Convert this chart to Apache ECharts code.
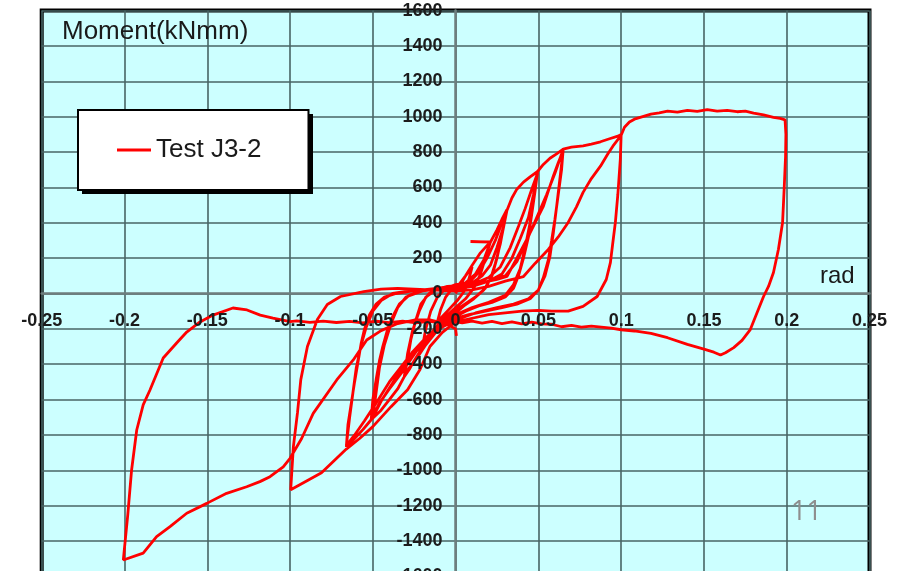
<!DOCTYPE html>
<html>
<head>
<meta charset="utf-8">
<title>Test J3-2</title>
<script src="https://cdn.jsdelivr.net/npm/echarts@6/dist/echarts.min.js"></script>
<style>
    html, body { margin: 0; padding: 0; background: #fff; }
    #chart { width: 900px; height: 571px; }
</style>
</head>
<body>
<div id="chart"></div>
<script>
// rotation (rad) / moment (kNmm) pairs
var amp01 = [[0,0],[0.003,50],[0.006,100],[0.01,150],[0.008,80],[0.005,10],[0.001,-40],[-0.004,-90],[-0.008,-130],[-0.011,-160],[-0.009,-90],[-0.006,-20],[-0.002,30],[0.002,50]];

var amp02 = [[0.006,100],[0.01,160],[0.015,230],[0.021,292],[0.009,293],[0.021,291],[0.018,200],[0.015,110],[0.011,30],[0.006,-30],[0,-80],[-0.006,-130],[-0.011,-180],[-0.016,-240],[-0.02,-300],[-0.018,-200],[-0.015,-100],[-0.011,-20],[-0.006,30],[0,50]];

var amp03a = [[0.006,60],[0.012,110],[0.017,190],[0.021,290],[0.025,360],[0.028,420],[0.031,475],[0.029,380],[0.027,280],[0.024,170],[0.021,80],[0.017,20],[0.011,-30],[0.005,-70],[0,-110],[-0.006,-150],[-0.012,-200],[-0.017,-260],[-0.021,-320],[-0.025,-380],[-0.028,-430],[-0.031,-470],[-0.029,-370],[-0.027,-260],[-0.024,-150],[-0.021,-60],[-0.016,0],[-0.01,30],[-0.004,40],[0.002,40]];

var amp03b = [[0.008,60],[0.014,120],[0.019,200],[0.024,300],[0.028,400],[0.031,470],[0.028,330],[0.025,200],[0.022,100],[0.018,30],[0.012,-20],[0.004,-70],[-0.004,-120],[-0.011,-180],[-0.017,-260],[-0.022,-340],[-0.027,-410],[-0.031,-470],[-0.029,-340],[-0.026,-210],[-0.022,-100],[-0.018,-20],[-0.012,20],[-0.005,40],[0.002,45]];

var amp05a = [[0.01,60],[0.016,100],[0.021,160],[0.025,260],[0.029,380],[0.031,470],[0.034,540],[0.037,590],[0.041,630],[0.045,660],[0.0495,690],[0.048,580],[0.046,450],[0.044,320],[0.041,200],[0.038,100],[0.035,30],[0.03,-20],[0.022,-50],[0.014,-70],[0.006,-100],[0,-130],[-0.006,-170],[-0.012,-220],[-0.018,-290],[-0.023,-360],[-0.028,-420],[-0.031,-470],[-0.035,-540],[-0.04,-600],[-0.045,-660],[-0.051,-714],[-0.05,-600],[-0.048,-487],[-0.046,-380],[-0.044,-300],[-0.041,-200],[-0.038,-130],[-0.034,-60],[-0.028,-10],[-0.02,20],[-0.01,30],[0,35]];

var amp05b = [[0.01,50],[0.02,90],[0.027,150],[0.033,260],[0.038,380],[0.042,480],[0.046,590],[0.0495,680],[0.047,540],[0.045,400],[0.042,260],[0.039,140],[0.035,50],[0.03,-10],[0.02,-50],[0.01,-80],[0,-120],[-0.01,-180],[-0.018,-250],[-0.026,-330],[-0.033,-430],[-0.039,-520],[-0.045,-610],[-0.05,-700],[-0.048,-560],[-0.046,-420],[-0.043,-290],[-0.039,-170],[-0.035,-80],[-0.03,-20],[-0.02,15],[-0.01,25],[0,30]];

var amp065a = [[0.01,40],[0.02,70],[0.028,110],[0.034,200],[0.039,310],[0.044,430],[0.047,560],[0.0495,690],[0.053,730],[0.057,765],[0.061,790],[0.065,816],[0.064,700],[0.062,560],[0.06,420],[0.058,300],[0.056,190],[0.053,90],[0.05,20],[0.045,-30],[0.037,-60],[0.028,-80],[0.018,-100],[0.008,-120],[0,-140],[-0.008,-180],[-0.016,-250],[-0.024,-330],[-0.032,-440],[-0.04,-540],[-0.046,-620],[-0.051,-714],[-0.056,-770],[-0.061,-820],[-0.066,-867],[-0.065,-740],[-0.063,-620],[-0.061,-500],[-0.059,-390],[-0.057,-280],[-0.055,-200],[-0.052,-120],[-0.048,-60],[-0.043,-20],[-0.036,0],[-0.026,15],[-0.015,20],[-0.005,25]];

var amp065b = [[0.005,30],[0.015,60],[0.025,80],[0.031,96],[0.037,200],[0.043,306],[0.048,400],[0.053,493],[0.056,580],[0.059,663],[0.062,740],[0.065,810],[0.063,650],[0.061,490],[0.059,340],[0.057,210],[0.054,100],[0.05,20],[0.044,-30],[0.035,-60],[0.025,-80],[0.012,-110],[0,-150],[-0.01,-200],[-0.02,-280],[-0.03,-380],[-0.04,-500],[-0.048,-620],[-0.055,-720],[-0.061,-800],[-0.066,-860],[-0.064,-700],[-0.062,-560],[-0.06,-420],[-0.057,-290],[-0.054,-190],[-0.05,-100],[-0.045,-40],[-0.038,0],[-0.028,15],[-0.015,20],[-0.003,25]];

var amp10 = [[0.01,40],[0.02,70],[0.03,100],[0.037,180],[0.043,300],[0.049,430],[0.055,560],[0.06,680],[0.065,816],[0.07,828],[0.077,835],[0.082,845],[0.0875,858],[0.093,875],[0.098,890],[0.1,900],[0.0995,760],[0.098,560],[0.0965,402],[0.095,290],[0.0935,175],[0.091,79],[0.0855,-17],[0.077,-73],[0.068,-100],[0.058,-100],[0.05,-95],[0.04,-100],[0.03,-110],[0.02,-120],[0.01,-140],[0,-160],[-0.008,-220],[-0.0155,-300],[-0.0215,-430],[-0.029,-544],[-0.039,-640],[-0.05,-753],[-0.058,-820],[-0.066,-880],[-0.075,-960],[-0.081,-1014],[-0.09,-1060],[-0.0996,-1110],[-0.098,-867],[-0.0955,-674],[-0.0935,-487],[-0.0895,-300],[-0.0835,-147],[-0.0775,-62],[-0.0695,-17],[-0.0555,11],[-0.045,25],[-0.035,29],[-0.015,20],[0,15]];

// last cycle: up to +0.2, slip back along about -160, then out to -0.2
var amp20Pos = [[0.01,20],[0.02,40],[0.03,70],[0.041,96],[0.048,170],[0.056,249],[0.062,320],[0.068,402],[0.073,490],[0.077,572],[0.082,650],[0.0875,720],[0.092,790],[0.095,833],[0.1,895],[0.102,940],[0.105,970],[0.108,986],[0.113,1000],[0.118,1014],[0.123,1022],[0.128,1031],[0.134,1026],[0.14,1036],[0.146,1030],[0.152,1040],[0.158,1032],[0.164,1036],[0.17,1028],[0.175,1032],[0.18,1020],[0.186,1010],[0.192,996],[0.196,990],[0.199,982],[0.1995,900],[0.1993,776],[0.1985,600],[0.1975,402],[0.195,250],[0.192,119],[0.189,40],[0.186,-17],[0.182,-110],[0.178,-204],[0.173,-265],[0.168,-306],[0.163,-335],[0.16,-348],[0.156,-332],[0.15,-315],[0.14,-288],[0.128,-250],[0.118,-226],[0.108,-212],[0.1,-205]];

var amp20Slip = [[0.094,-196],[0.088,-190],[0.082,-184],[0.076,-190],[0.07,-180],[0.064,-188],[0.058,-174],[0.052,-172],[0.046,-162],[0.04,-172],[0.034,-160],[0.028,-170],[0.022,-158],[0.016,-168],[0.01,-156],[0.004,-166],[-0.002,-158],[-0.008,-166],[-0.016,-157],[-0.024,-166],[-0.032,-156],[-0.04,-165],[-0.048,-157],[-0.056,-166],[-0.064,-158],[-0.072,-164],[-0.08,-156],[-0.088,-163],[-0.096,-155],[-0.1,-159]];

var amp20Neg = [[-0.1103,-139],[-0.118,-122],[-0.126,-93],[-0.1345,-82],[-0.1465,-122],[-0.1544,-161],[-0.1624,-218],[-0.1685,-280],[-0.1766,-365],[-0.1846,-546],[-0.1887,-630],[-0.1926,-772],[-0.1957,-998],[-0.198,-1250],[-0.2007,-1507],[-0.1887,-1468],[-0.1806,-1375],[-0.1725,-1319],[-0.1624,-1243],[-0.1503,-1187],[-0.1383,-1130],[-0.1262,-1093],[-0.1182,-1064],[-0.1121,-1036],[-0.1041,-980],[-0.1,-932],[-0.093,-820],[-0.086,-678],[-0.0718,-489],[-0.0618,-376],[-0.0537,-263],[-0.045,-210],[-0.035,-170],[-0.025,-150],[-0.015,-150],[-0.006,-170],[0,-200],[0.0005,-240]];

var cycles = [amp01, amp02, amp03a, amp03b, amp05a, amp05b, amp065a, amp065b, amp10, amp20Pos, amp20Slip, amp20Neg];
var path = [];
cycles.forEach(function (c) { path = path.concat(c); });

var labelFont = 'Liberation Sans';

// plot frame in pixels; axes are shifted from the frame edges onto the zero lines
var plotLeft = 41.7, plotRight = 869.5, plotTop = 10.6, plotBottom = 576.4;
var xMin = -0.25, xMax = 0.25, xStep = 0.05;
var yMin = -1600, yMax = 1600, yStep = 200;
var zeroX = plotLeft + (0 - xMin) / (xMax - xMin) * (plotRight - plotLeft);
var zeroY = plotTop + (yMax - 0) / (yMax - yMin) * (plotBottom - plotTop);

var gridLine = {show: true, lineStyle: {color: '#486565', width: 1.6}};
var tickText = {fontSize: 18, fontWeight: 'bold', color: '#1c1c1c', fontFamily: labelFont};

function plain(v) { return String(v); }

var option = {
    animation: false,
    backgroundColor: '#ffffff',
    title: [
        {
            text: 'Moment(kNmm)', left: 57, top: 14,
            textStyle: {fontFamily: labelFont, fontSize: 26, fontWeight: 'normal', color: '#1a1a1a'}
        },
        {
            text: 'rad', left: 815, top: 259,
            textStyle: {fontFamily: labelFont, fontSize: 24, fontWeight: 'normal', color: '#1a1a1a'}
        },
        {
            text: '11', left: 786, top: 494,
            textStyle: {fontFamily: 'Open Sans', fontSize: 27, fontWeight: 'normal', color: '#8e8e8e'}
        }
    ],
    graphic: [
        // drop shadow of the legend box
        {type: 'rect', left: 82, top: 114, shape: {width: 231, height: 80}, style: {fill: '#000'}, z: 3}
    ],
    legend: {
        left: 78,
        top: 110,
        padding: [27, 47, 27, 39],
        backgroundColor: '#ffffff',
        borderColor: '#000',
        borderWidth: 2,
        itemWidth: 34,
        itemHeight: 3,
        textStyle: {fontFamily: labelFont, fontSize: 26, color: '#1a1a1a'},
        data: [{name: 'Test J3-2', icon: 'rect'}],
        z: 5
    },
    grid: {
        left: plotLeft,
        right: 900 - plotRight,
        top: plotTop,
        bottom: 571 - plotBottom,
        show: true,
        backgroundColor: '#ccffff',
        borderColor: '#000',
        borderWidth: 4,
        outerBoundsMode: 'none'
    },
    xAxis: [
        {
            type: 'value', position: 'bottom',
            min: xMin, max: xMax, interval: xStep,
            offset: -(plotBottom - zeroY),
            axisLine: {onZero: false, lineStyle: {color: '#6e7e7e', width: 2.5}},
            axisTick: {show: false},
            axisLabel: {show: false},
            splitLine: gridLine
        },
        {
            // labels only, drawn above the curve
            type: 'value', position: 'bottom',
            min: xMin, max: xMax, interval: xStep,
            offset: -(plotBottom - zeroY),
            axisLine: {show: false},
            axisTick: {show: false},
            axisLabel: Object.assign({margin: 19, formatter: plain}, tickText),
            splitLine: {show: false},
            z: 10
        }
    ],
    yAxis: [
        {
            type: 'value', position: 'left',
            min: yMin, max: yMax, interval: yStep,
            offset: -(zeroX - plotLeft),
            axisLine: {onZero: false, lineStyle: {color: '#6e7e7e', width: 2.5}},
            axisTick: {show: false},
            axisLabel: {show: false},
            splitLine: gridLine
        },
        {
            type: 'value', position: 'left',
            min: yMin, max: yMax, interval: yStep,
            offset: -(zeroX - plotLeft),
            axisLine: {show: false},
            axisTick: {show: false},
            axisLabel: Object.assign({margin: 13, formatter: plain}, tickText),
            splitLine: {show: false},
            z: 10
        }
    ],
    series: [
        {
            name: 'Test J3-2',
            type: 'line',
            xAxisIndex: 0,
            yAxisIndex: 0,
            data: path,
            symbol: 'none',
            showSymbol: false,
            smooth: false,
            lineStyle: {color: '#ff0000', width: 2.8},
            itemStyle: {color: '#ff0000'},
            z: 3
        }
    ]
};

var myChart = echarts.init(document.getElementById('chart'));
myChart.setOption(option);
</script>
</body>
</html>
